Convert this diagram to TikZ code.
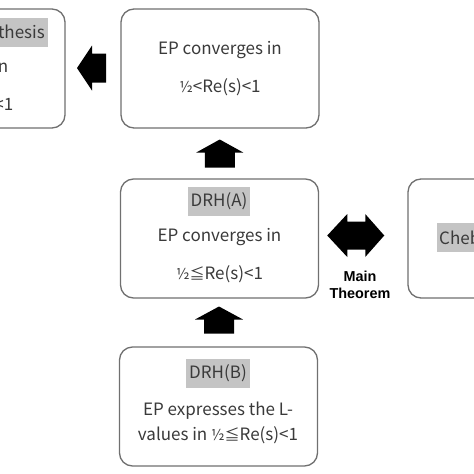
\documentclass[tikz,border=0pt]{standalone}
\usepackage{fontspec}
\setmainfont{Noto Sans CJK JP}
\newfontfamily\boldsans{Liberation Sans Bold}
\usetikzlibrary{calc}
\definecolor{txt}{HTML}{3A3A3A}
\definecolor{edge}{HTML}{707070}
\definecolor{hl}{HTML}{C4C4C4}
\newcommand{\hf}{{\fontsize{15}{18}\selectfont ½}}
\newcommand{\leqq}{{\fontsize{15}{18}\selectfont ≦}}
\tikzset{
  box/.style={draw=edge, line width=1.3pt, rounded corners=13pt, minimum width=198pt, minimum height=119pt, inner sep=0pt},
  lbl/.style={text=txt, font=\fontsize{17}{20}\selectfont, inner sep=0pt},
  hlbl/.style={lbl, fill=hl, inner xsep=3pt, minimum height=29pt},
  blk/.style={fill=black, draw=none},
  thm/.style={font=\boldsans\fontsize{14.4}{16}\selectfont, text=black, inner sep=0pt}
}
\begin{document}
\begin{tikzpicture}[x=1pt,y=1pt]
\useasboundingbox (0,0) rectangle (474,-474);
\fill[white] (0,0) rectangle (474,-474);
\clip (0,0) rectangle (474,-474);
% boxes
\node[box] (L)  at (-34,-68.5) {};
\node[box] (TM) at (220,-68.5) {};
\node[box] (M)  at (219.5,-238.5) {};
\node[box] (R)  at (507,-238.5) {};
\node[box] (B)  at (218.5,-406.5) {};
% left box fragments
\node[hlbl, anchor=east] (Lh) at (48,-32) {thesis};
\node[lbl, anchor=east] (L2) at (8.5,-68) {n};
\node[lbl, anchor=east] (L3) at (13.5,-104) {<1};
% top middle
\node[lbl] (TM1) at (220,-50) {EP converges in};
\node[lbl] (TM2) at (220,-87) {\hf<Re(s)<1};
% middle
\node[hlbl] (Mh) at (219,-201.5) {DRH(A)};
\node[lbl] (M1) at (219.5,-237) {EP converges in};
\node[lbl] (M2) at (219.5,-274) {\hf\leqq Re(s)<1};
% right
\fill[hl] (437,-223) rectangle (480,-252);
\node[lbl, anchor=west] (Rh) at (439,-237.5) {Cheb};
% bottom
\node[hlbl] (Bh) at (218,-373.5) {DRH(B)};
\node[lbl] (B1) at (218,-411) {EP expresses the L-};
\node[lbl] (B2) at (218,-435) {values in \hf\leqq Re(s)<1};
% arrows
\coordinate (a1) at ($(TM.south)!0.5!(M.north)$);
\fill[blk] ($(a1)+(0,14)$) -- ++(23.5,-13) -- ++(-8.5,0) -- ++(0,-15) -- ++(-30,0) -- ++(0,15) -- ++(-8.5,0) -- cycle;
\coordinate (a2) at ($(M.south)!0.5!(B.north)+(0,2)$);
\fill[blk] ($(a2)+(0,14)$) -- ++(24,-13) -- ++(-9,0) -- ++(0,-14) -- ++(-30,0) -- ++(0,14) -- ++(-9,0) -- cycle;
\coordinate (a3) at ($(L.east)!0.5!(TM.west)+(0,0.5)$);
\fill[blk] ($(a3)+(-16,0)$) -- ++(15,22.5) -- ++(0,-8) -- ++(14,0) -- ++(0,-29) -- ++(-14,0) -- ++(0,-8) -- cycle;
\coordinate (a4) at ($(M.east)!0.5!(R.west)+(-7.5,3)$);
\fill[blk] ($(a4)+(-28.5,0)$) -- ++(20,21.5) -- ++(0,-7.5) -- ++(18,0) -- ++(0,7.5) -- ++(19,-21.5) -- ++(-19,-21.5) -- ++(0,7.5) -- ++(-18,0) -- ++(0,-7.5) -- cycle;
\node[thm] (T1) at (360,-276) {Main};
\node[thm] (T2) at (360,-293) {Theorem};
\end{tikzpicture}
\end{document}
